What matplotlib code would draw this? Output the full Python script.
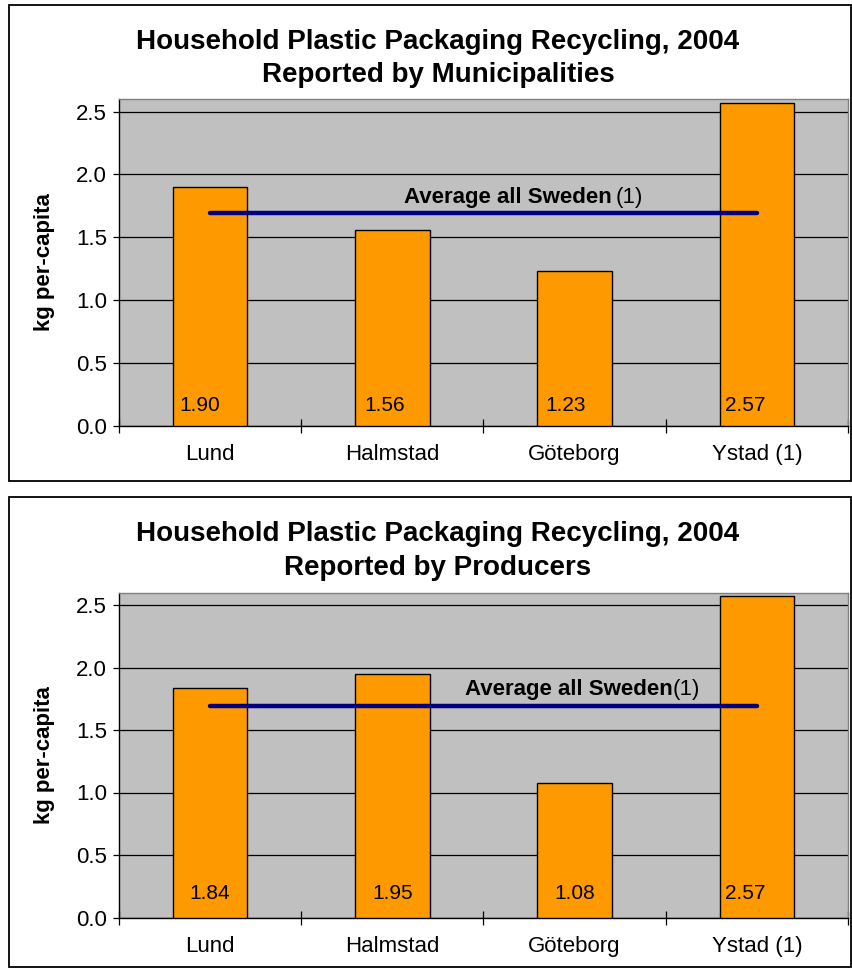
import matplotlib
matplotlib.use("Agg")
import matplotlib.pyplot as plt
from matplotlib.patches import Rectangle

plt.rcParams['font.family'] = ['Liberation Sans', 'DejaVu Sans']

categories = ["Lund", "Halmstad", "Göteborg", "Ystad (1)"]
municipal_values = [1.90, 1.56, 1.23, 2.57]
producer_values = [1.84, 1.95, 1.08, 2.57]
sweden_average = 1.69
title_line1 = "Household Plastic Packaging Recycling, 2004"
subtitles = ["Reported by Municipalities", "Reported by Producers"]
yticks = [0.0, 0.5, 1.0, 1.5, 2.0, 2.5]

W, H = 853, 969
fig = plt.figure(figsize=(W / 100, H / 100), dpi=100)

def fx(px):
    return px / W

def fy(py):
    return 1 - py / H

panels = [
    dict(box=(9, 5, 851, 481), ax=(119, 99, 848, 425.5), values=municipal_values,
         sub=subtitles[0], t1=42, t2=75, ylab=262, cat=460,
         avg_text="Average all Sweden", avg_x=404, avg_y=198, gap=" ",
         lab_off=[-10, -8, -9, -12], lab_y=0.16),
    dict(box=(9, 497, 851, 967), ax=(119, 592.5, 848, 917.5), values=producer_values,
         sub=subtitles[1], t1=534, t2=568, ylab=755, cat=948,
         avg_text="Average all Sweden", avg_x=465, avg_y=690, gap="",
         lab_off=[0, 0, 0, -12], lab_y=0.19),
]

for p in panels:
    x0, y0, x1, y1 = p['box']
    fig.patches.append(Rectangle((fx(x0), fy(y1)), fx(x1 - x0), (y1 - y0) / H,
                                 transform=fig.transFigure, fill=False,
                                 edgecolor='black', linewidth=1.3))
    ax0, ay0, ax1, ay1 = p['ax']
    ax = fig.add_axes([fx(ax0), fy(ay1), fx(ax1 - ax0), (ay1 - ay0) / H])
    ax.set_facecolor('#C0C0C0')
    n = len(categories)
    xs = list(range(n))
    ax.bar(xs, p['values'], width=0.41, color='#FF9900', edgecolor='black',
           linewidth=1.0, zorder=3)
    ax.plot([xs[0], xs[-1]], [sweden_average, sweden_average], color='#000080',
            linewidth=3.2, solid_capstyle='round', zorder=4)
    ax.set_xlim(-0.5, n - 0.5)
    ax.set_ylim(0, 2.6)
    ax.set_yticks(yticks)
    ax.set_yticklabels([f"{v:.1f}" for v in yticks], fontsize=16)
    ax.yaxis.grid(True, color='black', linewidth=0.9, zorder=1)
    ax.set_axisbelow(True)
    ax.set_xticks([i - 0.5 for i in range(n + 1)])
    ax.set_xticklabels([])
    ax.set_xticks(xs, minor=True)
    ax.set_xticklabels(categories, minor=True, fontsize=16)
    ax.tick_params(axis='x', which='major', direction='inout', length=10, width=0.9)
    ax.tick_params(axis='x', which='minor', length=0, pad=13)
    ax.tick_params(axis='y', direction='out', length=4.5, width=0.9, pad=4)
    for s in ['top', 'right']:
        ax.spines[s].set_color('#808080')
        ax.spines[s].set_linewidth(1.0)
    for s in ['left', 'bottom']:
        ax.spines[s].set_color('black')
        ax.spines[s].set_linewidth(1.0)
    # value labels
    for i, v in enumerate(p['values']):
        ax.annotate(f"{v:.2f}", (xs[i], p['lab_y']), xytext=(p['lab_off'][i], 0),
                    textcoords='offset pixels', ha='center', va='center',
                    fontsize=15, zorder=5)
    # average label
    t = fig.text(fx(p['avg_x']), fy(p['avg_y']), p['avg_text'], fontsize=16,
                 fontweight='bold', ha='left', va='center', zorder=6)
    fig.canvas.draw()
    bb = t.get_window_extent()
    fig.text(bb.x1 / W + (0.004 if p['gap'] else 0.0), fy(p['avg_y']), "(1)",
             fontsize=16, ha='left', va='center', zorder=6)
    # titles
    fig.text(fx(438), fy(p['t1']), title_line1, fontsize=20, fontweight='bold',
             ha='center', va='center')
    fig.text(fx(438), fy(p['t2']), p['sub'], fontsize=20, fontweight='bold',
             ha='center', va='center')
    fig.text(fx(45), fy(p['ylab']), "kg per-capita", fontsize=16, fontweight='bold',
             rotation=90, ha='center', va='center')

fig.savefig("out.png", dpi=100, facecolor='white')
